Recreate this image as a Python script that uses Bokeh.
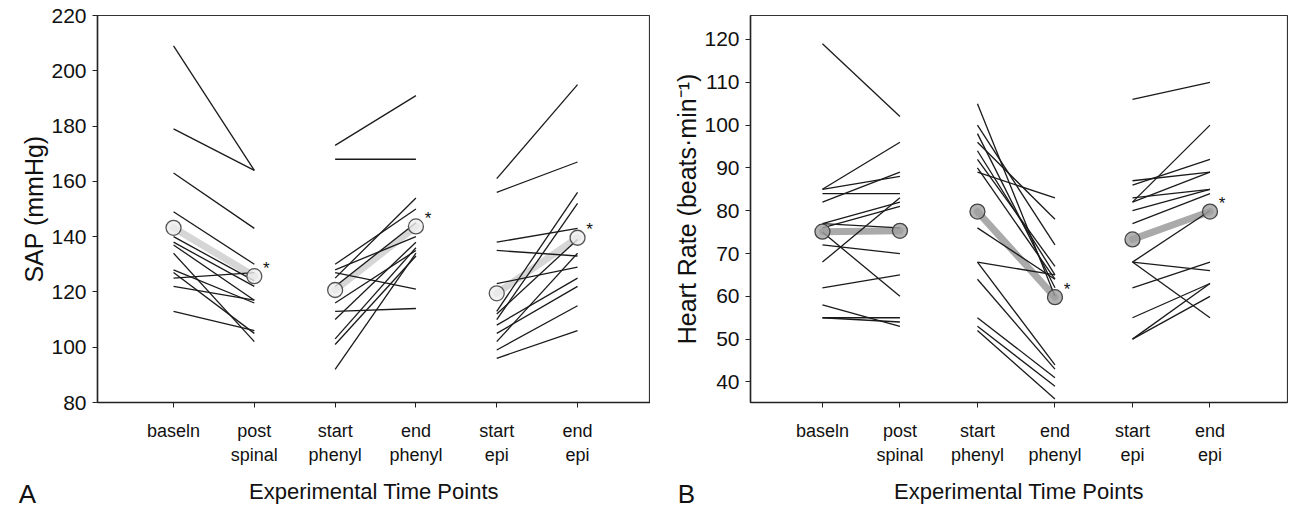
from bokeh.plotting import figure
from bokeh.layouts import row
from bokeh.models import Range1d, FixedTicker, Label
from bokeh.embed import file_html
from bokeh.resources import INLINE
from bokeh.core.properties import value

# ---------------- data ----------------
categories = ["baseln", "post\nspinal", "start\nphenyl", "end\nphenyl", "start\nepi", "end\nepi"]
tick_pos = [1, 2, 3, 4, 5, 6]
x_title = "Experimental Time Points"

# Panel A : SAP (mmHg), individual subjects
sap_baseln = [209, 179, 163, 149, 140, 138, 137, 134, 128, 127, 125, 122, 113]
sap_post = [164, 164, 143, 130, 124, 122, 117, 102, 116, 105, 127, 117, 106]
sap_start_phenyl = [173, 168, 130, 128, 127, 125, 122, 116, 113, 110, 103, 101, 92]
sap_end_phenyl = [191, 168, 150, 140, 121, 154, 145, 135, 114, 138, 136, 133, 134]
sap_start_epi = [161, 156, 138, 135, 123, 113, 110, 108, 105, 102, 99, 96, 112]
sap_end_epi = [195, 167, 143, 133, 129, 156, 152, 125, 122, 134, 115, 106, 139]
sap_means = [143.2, 125.7, 120.7, 143.7, 119.5, 139.6]
sap_star = [False, True, False, True, False, True]

# Panel B : Heart rate (beats/min), individual subjects
hr_baseln = [119, 85, 85, 82, 84, 77, 77, 76, 75, 72, 68, 62, 58, 55, 55]
hr_post = [102, 96, 88, 89, 84, 82, 76, 81, 60, 70, 83, 65, 53, 55, 54]
hr_start_phenyl = [105, 100, 98, 96, 94, 92, 90, 89, 76, 68, 68, 64, 55, 53, 52]
hr_end_phenyl = [60, 72, 62, 78, 65, 67, 64, 83, 64, 65, 44, 43, 41, 39, 36]
hr_start_epi = [106, 82, 86, 87, 82, 80, 83, 77, 68, 68, 68, 62, 55, 50, 50]
hr_end_epi = [110, 100, 92, 89, 89, 85, 85, 84, 80, 66, 55, 68, 63, 63, 60]
hr_means = [75.1, 75.3, 79.8, 59.8, 73.3, 79.8]
hr_star = [False, False, False, True, False, True]

FONT = "Liberation Sans"
FIG_H = 506


def make_panel(pairs, means, stars, yr, yticks, ylabel, xr, width, mb_left, mb_right,
               frame_bottom, band_color, circ_fill, circ_line, letter, letter_pos):
    p = figure(width=width, height=FIG_H, output_backend="svg", toolbar_location=None,
               x_range=Range1d(*xr), y_range=Range1d(*yr),
               min_border_left=mb_left, min_border_right=mb_right,
               min_border_top=15, min_border_bottom=FIG_H - frame_bottom)
    p.grid.visible = False
    p.outline_line_color = "#333333"
    p.outline_line_width = 1.2
    p.background_fill_color = "white"
    p.border_fill_color = "white"

    # mean band
    for k in range(3):
        i0, i1 = 2 * k, 2 * k + 1
        p.line([tick_pos[i0], tick_pos[i1]], [means[i0], means[i1]],
               line_width=7, line_color=band_color, line_cap="round")

    # individual subject lines
    for k, (a, b) in enumerate(pairs):
        i0, i1 = 2 * k, 2 * k + 1
        p.segment(x0=[tick_pos[i0]] * len(a), y0=a, x1=[tick_pos[i1]] * len(b), y1=b,
                  line_color="#1a1a1a", line_width=1.3)

    # mean circles
    p.scatter(tick_pos, means, marker="circle", size=15, fill_color=circ_fill,
              fill_alpha=0.8, line_color=circ_line, line_width=1.3)

    # significance stars
    sx = [tick_pos[i] for i in range(6) if stars[i]]
    sy = [means[i] for i in range(6) if stars[i]]
    p.text(x=sx, y=sy, text=["*"] * len(sx), x_offset=12, y_offset=-8,
           text_font=value(FONT), text_font_size="17px", text_color="#111111",
           text_align="center", text_baseline="middle")

    xa = p.xaxis[0]
    ya = p.yaxis[0]
    xa.ticker = FixedTicker(ticks=tick_pos)
    xa.major_label_overrides = {t: c for t, c in zip(tick_pos, categories)}
    ya.ticker = FixedTicker(ticks=yticks)
    for ax in (xa, ya):
        ax.axis_line_color = "#222222"
        ax.axis_line_width = 1.5
        ax.major_tick_line_color = "#222222"
        ax.major_tick_out = 5
        ax.major_tick_in = 0
        ax.minor_tick_line_color = None
        ax.major_label_text_font = FONT
        ax.major_label_text_color = "#111111"
        ax.axis_label_text_font = FONT
        ax.axis_label_text_font_style = "normal"
        ax.axis_label_text_color = "#111111"
    xa.major_label_text_font_size = "18px"
    xa.major_label_standoff = 13
    xa.axis_label = x_title
    xa.axis_label_text_font_size = "22px"
    xa.axis_label_standoff = 11
    ya.major_label_text_font_size = "21px"
    ya.major_label_standoff = 6
    ya.axis_label = ylabel
    ya.axis_label_text_font_size = "25px"
    ya.axis_label_standoff = 0

    # panel letter, kept in a side panel (canvas coordinates) so it is not clipped
    p.add_layout(Label(x=letter_pos[0], y=letter_pos[1], x_units="canvas", y_units="canvas",
                       text=letter, text_font=FONT, text_font_size="26px",
                       text_color="#111111", text_align="center",
                       text_baseline="middle"), "left")
    return p


pA = make_panel(
    pairs=[(sap_baseln, sap_post), (sap_start_phenyl, sap_end_phenyl), (sap_start_epi, sap_end_epi)],
    means=sap_means, stars=sap_star, yr=(80, 220), yticks=[80, 100, 120, 140, 160, 180, 200, 220],
    ylabel="SAP (mmHg)", xr=(0.059, 6.903), width=650, mb_left=97, mb_right=0,
    frame_bottom=405, band_color="#d6d6d6", circ_fill="#eeeeee", circ_line="#555555",
    letter="A", letter_pos=(27, 493))

pB = make_panel(
    pairs=[(hr_baseln, hr_post), (hr_start_phenyl, hr_end_phenyl), (hr_start_epi, hr_end_epi)],
    means=hr_means, stars=hr_star, yr=(35.2, 125.6), yticks=[40, 50, 60, 70, 80, 90, 100, 110, 120],
    ylabel="Heart Rate (beats·min⁻¹)", xr=(0.072, 7.0), width=638, mb_left=100, mb_right=1,
    frame_bottom=402, band_color="#aaaaaa", circ_fill="#a0a0a0", circ_line="#444444",
    letter="B", letter_pos=(36, 493))

layout = row(pA, pB)
open("out.html", "w").write(file_html(layout, INLINE))
